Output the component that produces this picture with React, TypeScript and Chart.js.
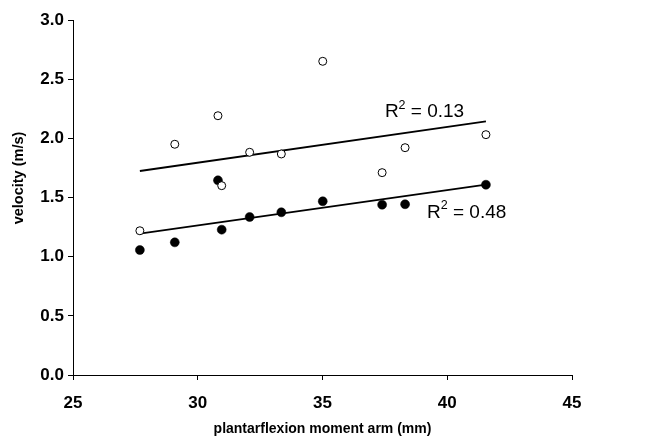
import React, { useEffect, useRef } from "react";
import { Chart, registerables } from "chart.js";

Chart.register(...registerables);

// Data
const momentArm = [27.68, 29.08, 30.81, 30.96, 32.08, 33.35, 35.01, 37.39, 38.31, 41.55];
const velocityOpen = [1.219, 1.95, 2.191, 1.6, 1.882, 1.868, 2.651, 1.71, 1.921, 2.031];
const velocityFilled = [1.056, 1.121, 1.645, 1.228, 1.335, 1.375, 1.468, 1.439, 1.443, 1.608];

// Trend line end points (x, y)
const trendOpenX = [27.68, 41.55];
const trendOpenY = [1.724, 2.144];
const trendFilledX = [27.68, 41.55];
const trendFilledY = [1.194, 1.608];

// R² annotations: [x, y, value]
const r2Labels: [number, number, string][] = [
  [37.5, 2.18, "0.13"],
  [39.19, 1.329, "0.48"],
];

const xTicks = [25, 30, 35, 40, 45];
const yTicks = [0, 0.5, 1.0, 1.5, 2.0, 2.5, 3.0];

const xTitle = "plantarflexion moment arm (mm)";
const yTitle = "velocity (m/s)";

const FONT = '"Liberation Sans", Arial, Helvetica, sans-serif';

const annotPlugin = {
  id: "annot",
  afterDraw(chart: any) {
    const ctx = chart.ctx as CanvasRenderingContext2D;
    const xs = chart.scales.x;
    const ys = chart.scales.y;
    const area = chart.chartArea;
    ctx.save();
    ctx.fillStyle = "#000";
    // axis titles
    ctx.font = `bold 14px ${FONT}`;
    ctx.textAlign = "center";
    ctx.textBaseline = "middle";
    ctx.fillText(xTitle, (area.left + area.right) / 2, area.bottom + 54);
    ctx.save();
    ctx.font = `bold 14.5px ${FONT}`;
    ctx.translate(19, area.top + 158);
    ctx.rotate(-Math.PI / 2);
    ctx.fillText(yTitle, 0, 0);
    ctx.restore();

    // R² labels
    ctx.textAlign = "left";
    ctx.textBaseline = "alphabetic";
    for (const [lx, ly, val] of r2Labels) {
      let px = xs.getPixelForValue(lx);
      const py = ys.getPixelForValue(ly);
      ctx.font = `19px ${FONT}`;
      ctx.fillText("R", px, py);
      px += ctx.measureText("R").width;
      ctx.font = `12.5px ${FONT}`;
      ctx.fillText("2", px, py - 8.4);
      px += ctx.measureText("2").width;
      ctx.font = `19px ${FONT}`;
      ctx.fillText(" = " + val, px, py);
    }
    ctx.restore();
  },
};

export default function App() {
  const ref = useRef<HTMLCanvasElement | null>(null);

  useEffect(() => {
    if (!ref.current) return;
    const chart = new Chart(ref.current, {
      type: "scatter",
      data: {
        datasets: [
          {
            label: "open",
            data: momentArm.map((x, i) => ({ x, y: velocityOpen[i] })),
            backgroundColor: "#fff",
            borderColor: "#000",
            borderWidth: 1,
            pointRadius: 4,
          },
          {
            label: "filled",
            data: momentArm.map((x, i) => ({ x, y: velocityFilled[i] })),
            backgroundColor: "#000",
            borderColor: "#000",
            borderWidth: 0.5,
            pointRadius: 4.5,
          },
          {
            type: "line",
            label: "trendOpen",
            data: trendOpenX.map((x, i) => ({ x, y: trendOpenY[i] })),
            borderColor: "#000",
            borderWidth: 1.8,
            pointRadius: 0,
            showLine: true,
            fill: false,
          } as any,
          {
            type: "line",
            label: "trendFilled",
            data: trendFilledX.map((x, i) => ({ x, y: trendFilledY[i] })),
            borderColor: "#000",
            borderWidth: 1.8,
            pointRadius: 0,
            showLine: true,
            fill: false,
          } as any,
        ],
      },
      options: {
        responsive: false,
        animation: false,
        devicePixelRatio: 1,
        layout: { padding: { top: 20, right: 80, left: 0, bottom: 0 } },
        plugins: {
          legend: { display: false },
          tooltip: { enabled: false },
        },
        scales: {
          x: {
            type: "linear",
            min: 25,
            max: 45,
            afterFit: (s: any) => {
              s.height = 67;
            },
            afterBuildTicks: (s: any) => {
              s.ticks = xTicks.map((v) => ({ value: v }));
            },
            ticks: {
              color: "#000",
              font: { family: FONT, size: 17, weight: "bold" },
              padding: 13,
              maxRotation: 0,
              callback: (v: any) => String(v),
            },
            grid: {
              drawOnChartArea: false,
              drawTicks: true,
              tickLength: 5,
              color: "#000",
              lineWidth: 1,
            },
            border: { display: true, color: "#000", width: 1 },
          },
          y: {
            type: "linear",
            min: 0,
            max: 3,
            afterFit: (s: any) => {
              s.width = 73;
            },
            afterBuildTicks: (s: any) => {
              s.ticks = yTicks.map((v) => ({ value: v }));
            },
            ticks: {
              color: "#000",
              font: { family: FONT, size: 17, weight: "bold" },
              padding: 4,
              callback: (v: any) => Number(v).toFixed(1),
            },
            grid: {
              drawOnChartArea: false,
              drawTicks: true,
              tickLength: 5,
              color: "#000",
              lineWidth: 1,
            },
            border: { display: true, color: "#000", width: 1 },
          },
        },
      },
      plugins: [annotPlugin],
    });
    return () => chart.destroy();
  }, []);

  return (
    <div style={{ position: "fixed", left: 0, top: 0, width: 652, height: 442, background: "#fff" }}>
      <canvas ref={ref} width={652} height={442} style={{ width: 652, height: 442 }} />
    </div>
  );
}
